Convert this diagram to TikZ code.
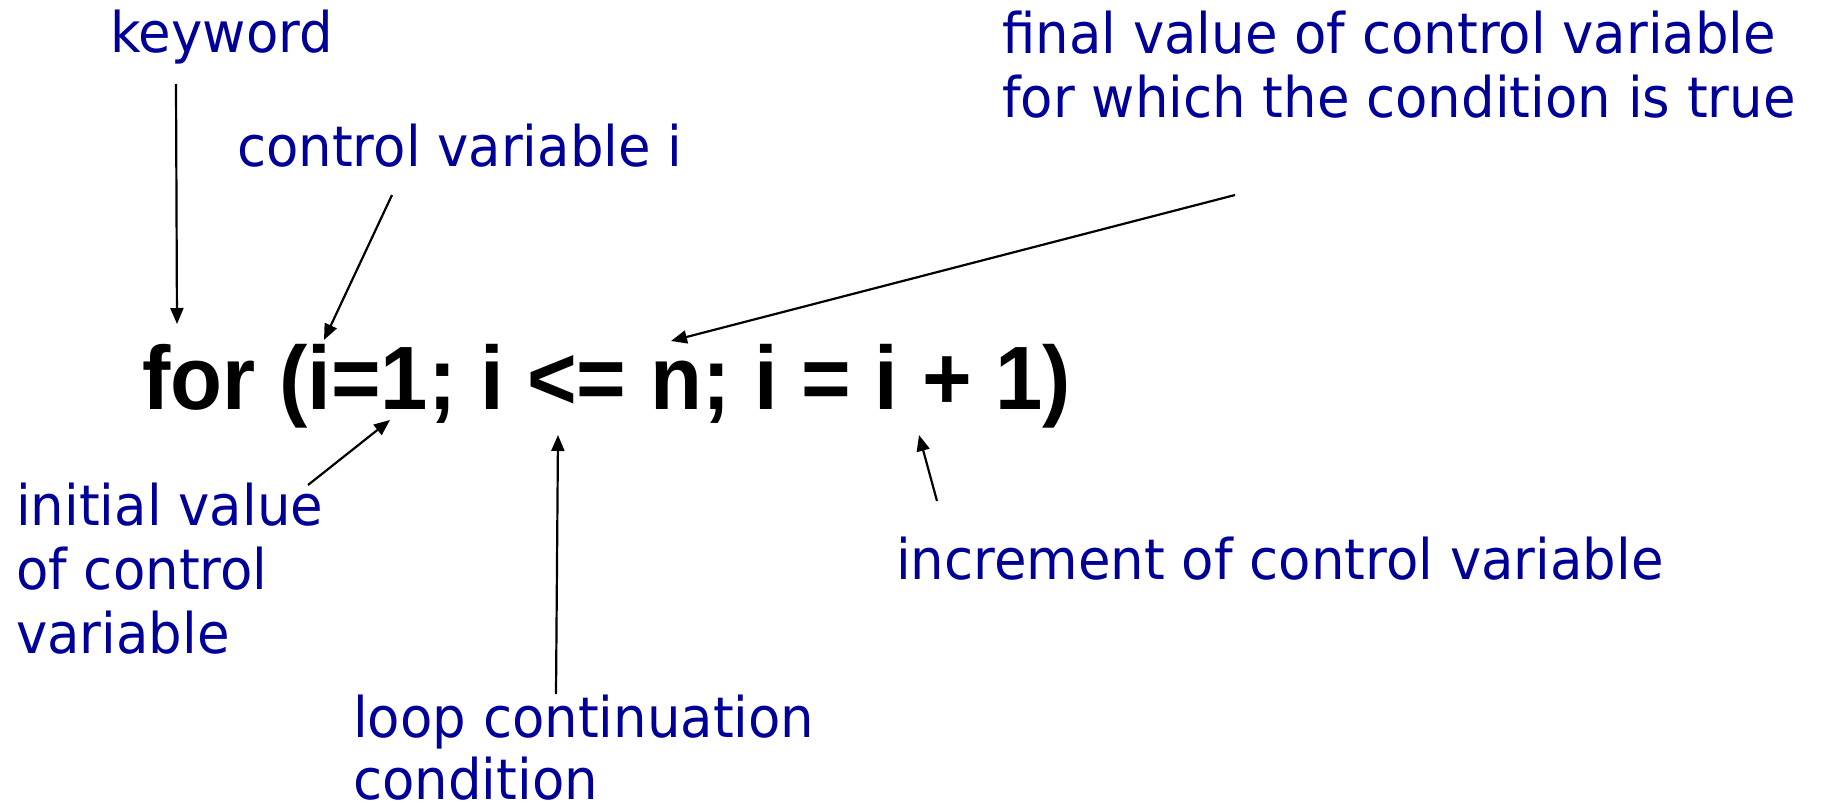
\documentclass[tikz,border=0pt]{standalone}
\usepackage{fontspec}
\setmainfont{DejaVu Sans}
\newfontfamily\notefont[FakeStretch=0.945]{DejaVu Sans}
\newfontfamily\codefont[FakeStretch=0.945]{Liberation Sans}
\definecolor{noteblue}{RGB}{0,0,153}
\usetikzlibrary{arrows.meta}

\begin{document}
\begin{tikzpicture}[x=1pt, y=-1pt,
  note/.style={anchor=base west, inner sep=0pt, align=left, text=noteblue,
               font=\notefont\fontsize{56}{64}\selectfont},
  code/.style={anchor=base west, inner sep=0pt,
               font=\codefont\bfseries\fontsize{90}{100}\selectfont},
  parr/.style={-{Triangle[length=16pt, width=13pt]}, line width=2.2pt}
]
\useasboundingbox (0,0) rectangle (1823,806);

% The statement
\node[code] (stmt) at (142,409) {for (i=1; i <= n; i = i + 1)};

% Labels (base = last line)
\node[note] (kw)    at (110,52)  {keyword};
\node[note] (ctrl)  at (237,166) {control variable i};
\node[note] (final) at (1002,117) {final value of control variable\\for which the condition is true};
\node[note] (init)  at (16,653)  {initial value\\of control\\variable};
\node[note, font=\notefont\fontsize{56}{62}\selectfont, text depth=0pt] (loop) at (353,799) {loop continuation\\condition};
\node[note] (incr)  at (896,579) {increment of control variable};

% Arrow ends
\coordinate (kw-a)    at (176,84);   \coordinate (kw-b)    at (177,324);
\coordinate (ctrl-a)  at (392,195);  \coordinate (ctrl-b)  at (324,340);
\coordinate (final-a) at (1235,195); \coordinate (final-b) at (671,341);
\coordinate (init-a)  at (308,485);  \coordinate (init-b)  at (390,420);
\coordinate (loop-a)  at (556,694);  \coordinate (loop-b)  at (558,435);
\coordinate (incr-a)  at (937,501);  \coordinate (incr-b)  at (919,435);

% Arrows
\foreach \n in {kw,ctrl,final,init,loop,incr}
  \draw[parr] (\n-a) -- (\n-b);
\end{tikzpicture}
\end{document}
